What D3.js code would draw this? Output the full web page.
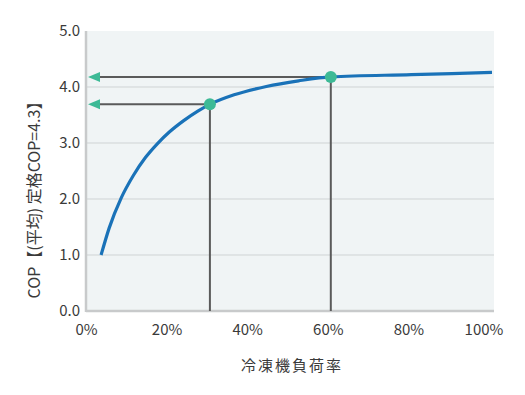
<!DOCTYPE html>
<html>
<head>
<meta charset="utf-8">
<script src="https://cdn.jsdelivr.net/npm/d3@7"></script>
<style>
  html, body { margin: 0; padding: 0; background: #fff; }
  svg { display: block; font-family: "Noto Sans CJK JP", "Noto Sans", sans-serif; }
</style>
</head>
<body>
<svg id="chart" width="525" height="395"></svg>
<script>
// Chiller load ratio (%) vs average COP
const loadRatio = [3, 5, 8, 11, 14, 17, 20, 23.5, 27, 30, 36, 44, 52, 60, 80, 100];
const copValues = [1.0, 1.48, 2.02, 2.42, 2.74, 2.99, 3.2, 3.4, 3.57, 3.69, 3.86, 4.01, 4.11, 4.18, 4.22, 4.26];

// Highlighted operating points
const markLoad = [30, 60];
const markCop = [3.69, 4.18];

const xTicks = [0, 20, 40, 60, 80, 100];
const yTicks = [0, 1, 2, 3, 4, 5];

const xTitle = "冷凍機負荷率";
const yTitle = "COP【(平均) 定格COP=4.3】";

const svg = d3.select("#chart");

const plot = { left: 86, right: 494, top: 31, bottom: 311 };

const x = d3.scaleLinear().domain([0, 100]).range([89, 492]);
const y = d3.scaleLinear().domain([0, 5]).range([plot.bottom, plot.top]);

// plot background
svg.append("rect")
  .attr("x", plot.left).attr("y", plot.top)
  .attr("width", plot.right - plot.left).attr("height", plot.bottom - plot.top)
  .attr("fill", "#f0f4f5");

// horizontal gridlines
svg.append("g").selectAll("line")
  .data(yTicks.filter(d => d > 0 && d < 5))
  .join("line")
  .attr("x1", plot.left).attr("x2", plot.right)
  .attr("y1", d => y(d)).attr("y2", d => y(d))
  .attr("stroke", "#cfd3d4").attr("stroke-width", 1);

// axis lines
svg.append("line")
  .attr("x1", plot.left).attr("x2", plot.left)
  .attr("y1", plot.top).attr("y2", plot.bottom + 1)
  .attr("stroke", "#c8cacb").attr("stroke-width", 2.5);
svg.append("line")
  .attr("x1", plot.left).attr("x2", plot.right)
  .attr("y1", plot.bottom).attr("y2", plot.bottom)
  .attr("stroke", "#c8cacb").attr("stroke-width", 2.5);

// y tick labels
svg.append("g").selectAll("text")
  .data(yTicks)
  .join("text")
  .attr("x", 80).attr("y", d => y(d))
  .attr("dy", "0.36em")
  .attr("text-anchor", "end")
  .attr("font-size", 15)
  .attr("fill", "#3a3a3a")
  .text(d => d3.format(".1f")(d));

// x tick labels
svg.append("g").selectAll("text")
  .data(xTicks)
  .join("text")
  .attr("x", d => x(d)).attr("y", 330)
  .attr("dx", d => d === 100 ? -8 : -2.5)
  .attr("dy", "0.36em")
  .attr("text-anchor", "middle")
  .attr("font-size", 15)
  .attr("fill", "#3a3a3a")
  .text(d => d + "%");

// axis titles
svg.append("text")
  .attr("x", 292).attr("y", 366)
  .attr("dy", "0.36em")
  .attr("text-anchor", "middle")
  .attr("font-size", 15)
  .attr("fill", "#3a3a3a")
  .attr("letter-spacing", 2)
  .text(xTitle);

svg.append("text")
  .attr("transform", "translate(34,196) rotate(-90)")
  .attr("dy", "0.36em")
  .attr("text-anchor", "middle")
  .attr("font-size", 16)
  .attr("fill", "#3a3a3a")
  .text(yTitle);

// reference lines: vertical drops and horizontal leaders to the y axis
const refs = markLoad.map((d, i) => ({ load: d, cop: markCop[i] }));
const gRef = svg.append("g");
gRef.selectAll("line.v")
  .data(refs).join("line").attr("class", "v")
  .attr("x1", d => x(d.load)).attr("x2", d => x(d.load))
  .attr("y1", d => y(d.cop)).attr("y2", plot.bottom)
  .attr("stroke", "#5a5a5a").attr("stroke-width", 2);
gRef.selectAll("line.h")
  .data(refs).join("line").attr("class", "h")
  .attr("x1", d => x(d.load)).attr("x2", 96)
  .attr("y1", d => y(d.cop)).attr("y2", d => y(d.cop))
  .attr("stroke", "#5a5a5a").attr("stroke-width", 2);
gRef.selectAll("path.arrow")
  .data(refs).join("path").attr("class", "arrow")
  .attr("d", d => {
    const yy = y(d.cop);
    return `M88,${yy} L100,${yy - 5} L100,${yy + 5} Z`;
  })
  .attr("fill", "#3dba96");

// COP curve
const line = d3.line()
  .x((d, i) => x(loadRatio[i]))
  .y(d => y(d))
  .curve(d3.curveMonotoneX);
svg.append("path")
  .datum(copValues)
  .attr("d", line)
  .attr("fill", "none")
  .attr("stroke", "#1a72b8")
  .attr("stroke-width", 3.2);

// highlighted points
svg.append("g").selectAll("circle")
  .data(refs).join("circle")
  .attr("cx", d => x(d.load)).attr("cy", d => y(d.cop))
  .attr("r", 6)
  .attr("fill", "#3dba96");
</script>
</body>
</html>
